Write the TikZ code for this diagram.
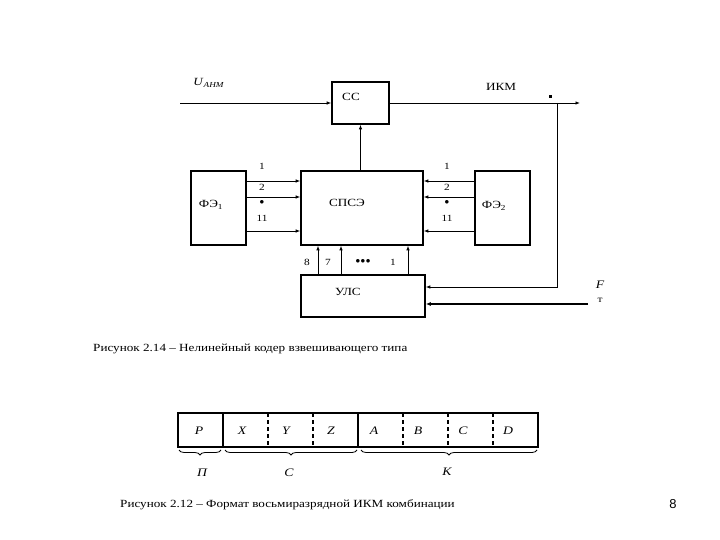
\documentclass[tikz,border=0pt]{standalone}
\usepackage{fontspec}
\setmainfont{Liberation Serif}[FakeStretch=1.2]
\newfontfamily\pagefont{Liberation Sans}
\usetikzlibrary{arrows.meta,decorations.pathreplacing}
\begin{document}
\begin{tikzpicture}[x=1bp,y=-1bp,
  blk/.style={draw,line width=1.6bp,inner sep=0pt},
  arr/.style={line width=0.8bp,-{Latex[length=4.5bp,width=3.5bp]}},
  thickarr/.style={line width=2bp,-{Latex[length=5bp,width=4bp]}},
  lbl/.style={font=\fontsize{11}{12}\selectfont,inner sep=0pt},
  num/.style={font=\fontsize{9.5}{10}\selectfont,inner sep=0pt},
  bit/.style={font=\fontsize{11.5}{12}\selectfont\itshape,inner sep=0pt},
  captext/.style={font=\fontsize{11}{13}\selectfont,inner sep=0pt,anchor=west},
  brc/.style={decorate,decoration={brace,mirror,amplitude=5bp},line width=0.8bp}]
\useasboundingbox[fill=white] (0,0) rectangle (720,540);

% blocks
\node[blk,minimum width=57bp,minimum height=42bp] (cc) at (360.5,103) {};
\node[lbl] (cct) at (351,97) {СС};
\node[blk,minimum width=55bp,minimum height=74bp] (fe1) at (218.5,208) {};
\node[lbl] (fe1t) at (211,205) {ФЭ\textsubscript{1}};
\node[blk,minimum width=122bp,minimum height=74bp] (spse) at (362,208) {};
\node[lbl] (spset) at (347,203) {СПСЭ};
\node[blk,minimum width=55bp,minimum height=74bp] (fe2) at (502.5,208) {};
\node[lbl] (fe2t) at (494,206) {ФЭ\textsubscript{2}};
\node[blk,minimum width=124bp,minimum height=42bp] (uls) at (363,296) {};
\node[lbl] (ulst) at (348,292) {УЛС};

% top line
\coordinate (uin) at (180,103);
\coordinate (uout) at (580,103);
\coordinate (tap) at (557,103);
\coordinate (fin) at (588,304);
\node[lbl] (ulab) at (209,83) {\textit{U}\textsubscript{\textit{АНМ}}};
\node[lbl] (ikm) at (501,87) {ИКМ};
\draw[arr] (uin) -- (cc.west);
\draw[arr] (cc.east) -- (uout);
\fill (548.5,95.5) rectangle (551.5,98.5);
\draw[arr] (tap) |- (uls.east |- 0,287);
\draw[arr] (spse.north -| cc.south) -- (cc.south);

% left / right arrows
\foreach \yy in {181,197,231}{
  \draw[arr] (fe1.east |- 0,\yy) -- (spse.west |- 0,\yy);
  \draw[arr] (fe2.west |- 0,\yy) -- (spse.east |- 0,\yy);
}
\foreach \xx/\tt in {262/l,447/r}{
  \node[num] (n1\tt) at (\xx,166) {1};
  \node[num] (n2\tt) at (\xx,187) {2};
  \node[num] (nd\tt) at (\xx,202) {$\bullet$};
  \node[num] (n11\tt) at (\xx,218) {11};
}

% bottom arrows
\foreach \xx in {318,341,408}{
  \draw[arr] (uls.north -| \xx,0) -- (spse.south -| \xx,0);
}
\node[num] (b8) at (307,262) {8};
\node[num] (b7) at (328,262) {7};
\node[num] (bd) at (363,261) {$\bullet\!\bullet\!\bullet$};
\node[num] (b1) at (393,262) {1};

% F line
\draw[thickarr] (fin) -- (uls.east |- fin);
\node[bit] (flab) at (600,285) {F};
\node[num] (tlab) at (600,300) {т};

% caption 1
\node[captext] (cap1) at (93,349) {Рисунок 2.14 – Нелинейный кодер взвешивающего типа};

% bit format
\draw[line width=1.6bp] (178,413) rectangle (538,447);
\draw[line width=1.6bp] (223,413) -- (223,447);
\draw[line width=1.6bp] (358,413) -- (358,447);
\foreach \xx in {268,313,403,448,493}{
  \draw[line width=1.6bp,dash pattern=on 4bp off 3bp] (\xx,413) -- (\xx,447);
}
\node[bit] (bP) at (199,431) {P};
\node[bit] (bX) at (242,431) {X};
\node[bit] (bY) at (286,431) {Y};
\node[bit] (bZ) at (331,431) {Z};
\node[bit] (bA) at (374,431) {A};
\node[bit] (bB) at (418,431) {B};
\node[bit] (bC) at (463,431) {C};
\node[bit] (bD) at (508,431) {D};
\draw[brc] (179,450) -- (221,450);
\draw[brc] (225,450) -- (357,450);
\draw[brc] (361,450) -- (537,450);
\node[bit] (lp) at (202,473) {П};
\node[bit] (lc) at (289,473) {С};
\node[bit] (lk) at (447,472) {К};

% caption 2
\node[captext] (cap2) at (120,505) {Рисунок 2.12 – Формат восьмиразрядной ИКМ комбинации};
\node[font=\pagefont\fontsize{13}{14}\selectfont,inner sep=0pt] (pg) at (673,504) {8};
\end{tikzpicture}
\end{document}
